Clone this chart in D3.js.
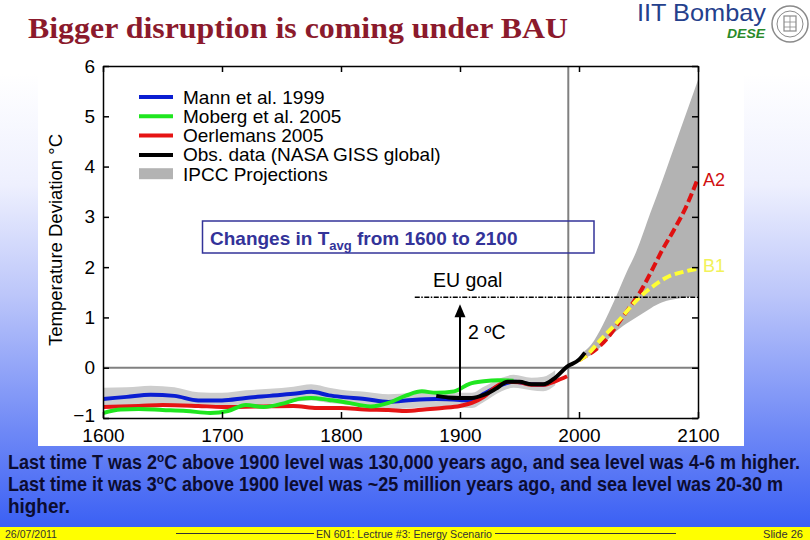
<!DOCTYPE html>
<html><head><meta charset="utf-8">
<script src="https://cdn.jsdelivr.net/npm/d3@7"></script>
<style>html,body{margin:0;padding:0;background:#fff;}svg{display:block;}</style>
</head><body>
<svg id="c" width="810" height="540"></svg>
<script>
// ---------- data ----------
const legendLabels = ["Mann et al. 1999","Moberg et al. 2005","Oerlemans 2005","Obs. data (NASA GISS global)","IPCC Projections"];
const xTickValues = [1600,1700,1800,1900,2000,2100];
const yTickValues = [-1,0,1,2,3,4,5,6];

const mannYears  = [1600,1620,1640,1660,1680,1700,1720,1740,1760,1775,1790,1800,1820,1840,1860,1880,1900,1910,1920,1935,1945,1960,1970,1980];
const mannValues = [-0.62,-0.58,-0.54,-0.56,-0.65,-0.65,-0.60,-0.56,-0.52,-0.48,-0.55,-0.58,-0.62,-0.68,-0.64,-0.62,-0.64,-0.66,-0.52,-0.34,-0.28,-0.33,-0.34,-0.22];

const mobergYears  = [1600,1615,1630,1650,1670,1690,1705,1720,1735,1750,1765,1775,1790,1800,1815,1825,1840,1855,1868,1880,1895,1908,1920,1932,1945];
const mobergValues = [-0.90,-0.83,-0.82,-0.84,-0.86,-0.90,-0.86,-0.74,-0.78,-0.72,-0.62,-0.60,-0.64,-0.67,-0.74,-0.77,-0.70,-0.55,-0.47,-0.50,-0.47,-0.32,-0.27,-0.25,-0.26];

const oerlYears  = [1600,1630,1650,1680,1700,1730,1760,1780,1800,1820,1840,1855,1870,1885,1900,1910,1920,1930,1940,1950,1960,1970,1980,1990];
const oerlValues = [-0.78,-0.76,-0.74,-0.76,-0.78,-0.77,-0.76,-0.80,-0.80,-0.83,-0.84,-0.86,-0.83,-0.80,-0.76,-0.70,-0.58,-0.38,-0.28,-0.29,-0.34,-0.34,-0.27,-0.17];

const nasaYears  = [1880,1890,1900,1910,1920,1930,1940,1950,1960,1970,1980,1990,2000,2005];
const nasaValues = [-0.56,-0.59,-0.60,-0.60,-0.54,-0.42,-0.28,-0.28,-0.33,-0.33,-0.20,0.02,0.16,0.30];

const histBandYears = [1600,1620,1640,1660,1680,1700,1720,1740,1760,1775,1790,1800,1820,1840,1860,1880,1900,1910,1920,1935,1945,1960,1970,1980];
const histBandUpper = [-0.40,-0.39,-0.36,-0.39,-0.49,-0.50,-0.45,-0.42,-0.38,-0.33,-0.40,-0.44,-0.48,-0.53,-0.50,-0.48,-0.50,-0.50,-0.38,-0.20,-0.14,-0.20,-0.18,-0.05];
const histBandLower = [-0.80,-0.76,-0.72,-0.74,-0.80,-0.80,-0.76,-0.72,-0.68,-0.65,-0.70,-0.72,-0.78,-0.83,-0.80,-0.78,-0.80,-0.80,-0.68,-0.47,-0.40,-0.45,-0.47,-0.35];

const projYears = [2003,2010,2020,2030,2040,2048,2060,2070,2085,2100];
const projUpper = [0.30,0.45,0.85,1.35,1.90,2.30,3.08,3.72,4.72,5.72];
const projLower = [0.20,0.25,0.45,0.70,0.88,1.00,1.18,1.30,1.38,1.42];

const a2Years  = [2000,2005,2015,2025,2035,2045,2050,2060,2070,2080,2090,2100];
const a2Values = [0.15,0.22,0.38,0.62,0.95,1.28,1.45,1.88,2.34,2.75,3.20,3.77];

const b1Years  = [2000,2005,2018,2032,2051,2060,2074,2090,2100];
const b1Values = [0.15,0.22,0.55,0.90,1.40,1.58,1.80,1.92,1.97];

const markerYear = 1991;      // vertical reference line
const euGoalValue = 1.4;      // 2 ºC above 1900 level
const baseline1900 = -0.58;
const euGoalStartYear = 1862;

const bottomLines = [
  ["Last time T was 2","o","C above 1900 level was 130,000 years ago, and sea level was 4-6 m higher."],
  ["Last time it was 3","o","C above 1900 level was ~25 million years ago, and sea level was 20-30 m"],
  ["higher.","",""]
];

// ---------- drawing ----------
const svg = d3.select("#c");
const defs = svg.append("defs");
const grad = defs.append("linearGradient").attr("id","bg").attr("x1",0).attr("y1",0).attr("x2",0).attr("y2",1);
[[0,"#ffffff"],[0.14,"#ffffff"],[0.35,"#eef0fe"],[0.56,"#bcc6fa"],[0.82,"#6e88f6"],[1,"#3b60f4"]].forEach(s=>grad.append("stop").attr("offset",s[0]).attr("stop-color",s[1]));
svg.append("rect").attr("width",810).attr("height",527).attr("fill","url(#bg)");
svg.append("rect").attr("y",527).attr("width",810).attr("height",13).attr("fill","#ffff00");

// header
svg.append("text").attr("x",28).attr("y",38).attr("font-family","'Liberation Serif','Times New Roman',serif")
  .attr("font-weight","bold").attr("font-size",30).attr("fill","#8b1a2c").attr("textLength",540).attr("lengthAdjust","spacingAndGlyphs")
  .text("Bigger disruption is coming under BAU");
svg.append("text").attr("x",637).attr("y",21).attr("font-family","'Liberation Sans',Arial,sans-serif")
  .attr("font-size",24).attr("fill","#24408c").attr("textLength",129).attr("lengthAdjust","spacingAndGlyphs").text("IIT Bombay");
svg.append("text").attr("x",727).attr("y",38).attr("font-family","'Liberation Sans',Arial,sans-serif")
  .attr("font-size",12).attr("font-weight","bold").attr("font-style","italic").attr("fill","#2a8a2a")
  .attr("textLength",38).attr("lengthAdjust","spacingAndGlyphs").text("DESE");
// seal
const seal = svg.append("g").attr("transform","translate(790,24)").attr("fill","none").attr("stroke","#8a8a8a");
seal.append("circle").attr("r",18).attr("stroke-width",1.5);
seal.append("circle").attr("r",13).attr("stroke-width",1);
seal.append("rect").attr("x",-6).attr("y",-8).attr("width",12).attr("height",15).attr("stroke-width",1.2);
seal.append("path").attr("d","M-6,-2H6M-6,3H6M0,-8V7").attr("stroke-width",0.8);

// chart panel
svg.append("rect").attr("x",38).attr("y",52).attr("width",706).attr("height",394).attr("fill","#ffffff");

const x = d3.scaleLinear().domain([1600,2100]).range([103,698]);
const y = d3.scaleLinear().domain([-1,6]).range([418,66]);
const fontSans = "'Liberation Sans',Arial,Helvetica,sans-serif";

defs.append("clipPath").attr("id","plot").append("rect").attr("x",103).attr("y",66).attr("width",595).attr("height",352);
const plot = svg.append("g").attr("clip-path","url(#plot)");

const zipXY = (xs,vs)=>xs.map((d,i)=>[d,vs[i]]);
const line = d3.line().x(d=>x(d[0])).y(d=>y(d[1])).curve(d3.curveMonotoneX);
const area = d3.area().x(d=>x(d.yr)).y0(d=>y(d.lo)).y1(d=>y(d.hi)).curve(d3.curveMonotoneX);

plot.append("path").datum(histBandYears.map((d,i)=>({yr:d,hi:histBandUpper[i],lo:histBandLower[i]})))
  .attr("d",area).attr("fill","#cdcdcd");
plot.append("path").datum(projYears.map((d,i)=>({yr:d,hi:projUpper[i],lo:projLower[i]})))
  .attr("d",area).attr("fill","#b3b3b3");

// reference lines
plot.append("line").attr("x1",x(1600)).attr("x2",x(2100)).attr("y1",y(0)).attr("y2",y(0)).attr("stroke","#808080").attr("stroke-width",2);
plot.append("line").attr("x1",x(markerYear)).attr("x2",x(markerYear)).attr("y1",y(6)).attr("y2",y(-1)).attr("stroke","#808080").attr("stroke-width",2);

// data lines
plot.append("path").datum(zipXY(mannYears,mannValues)).attr("d",line).attr("fill","none").attr("stroke","#0a1ed2").attr("stroke-width",4);
plot.append("path").datum(zipXY(oerlYears,oerlValues)).attr("d",line).attr("fill","none").attr("stroke","#e61414").attr("stroke-width",4);
plot.append("path").datum(zipXY(mobergYears,mobergValues)).attr("d",line).attr("fill","none").attr("stroke","#1fe61f").attr("stroke-width",4);
plot.append("path").datum(zipXY(a2Years,a2Values)).attr("d",line).attr("fill","none").attr("stroke","#e01010").attr("stroke-width",4).attr("stroke-dasharray","9,4");
plot.append("path").datum(zipXY(b1Years,b1Values)).attr("d",line).attr("fill","none").attr("stroke","#ffff33").attr("stroke-width",4).attr("stroke-dasharray","9,4");
plot.append("path").datum(zipXY(nasaYears,nasaValues)).attr("d",line).attr("fill","none").attr("stroke","#000").attr("stroke-width",4);

// EU goal
svg.append("line").attr("x1",x(euGoalStartYear)).attr("x2",x(2100)).attr("y1",y(euGoalValue)).attr("y2",y(euGoalValue))
  .attr("stroke","#000").attr("stroke-width",1.5).attr("stroke-dasharray","5,1.5,1.5,1.5");
svg.append("text").attr("x",433).attr("y",y(euGoalValue)-10).attr("font-family",fontSans).attr("font-size",19.5).text("EU goal");
svg.append("line").attr("x1",x(1900)).attr("x2",x(1900)).attr("y1",y(baseline1900)).attr("y2",y(euGoalValue)+18).attr("stroke","#000").attr("stroke-width",2);
svg.append("path").attr("d",`M${x(1900)},${y(euGoalValue)+7} l-5.5,13 h11 z`).attr("fill","#000");
svg.append("text").attr("x",468).attr("y",339).attr("font-family",fontSans).attr("font-size",19.5).text("2 ºC");

// axes
const axB = d3.axisBottom(x).tickValues(xTickValues).tickFormat(d3.format("d")).tickSizeInner(-6).tickSizeOuter(0).tickPadding(11);
const axL = d3.axisLeft(y).tickValues(yTickValues).tickFormat(d3.format("d")).tickSizeInner(-6).tickSizeOuter(0).tickPadding(8);
const axT = d3.axisTop(x).tickValues(xTickValues).tickSizeInner(-6).tickSizeOuter(0).tickFormat("");
const axR = d3.axisRight(y).tickValues(yTickValues).tickSizeInner(-6).tickSizeOuter(0).tickFormat("");
const styleAx = g=>{g.selectAll("text").attr("font-family",fontSans).attr("font-size",19).attr("fill","#000");
  g.selectAll("line,path").attr("stroke","#000").attr("stroke-width",1.5);};
svg.append("g").attr("transform",`translate(0,${y(-1)})`).call(axB).call(styleAx);
const gL = svg.append("g").attr("transform",`translate(${x(1600)},0)`).call(axL).call(styleAx);
gL.selectAll(".tick").filter(d=>d===-1).select("text").attr("y",-3);
svg.append("g").attr("transform",`translate(0,${y(6)})`).call(axT).call(styleAx);
svg.append("g").attr("transform",`translate(${x(2100)},0)`).call(axR).call(styleAx);

svg.append("text").attr("transform","translate(62,240) rotate(-90)").attr("text-anchor","middle")
  .attr("font-family",fontSans).attr("font-size",18.5).text("Temperature Deviation °C");

// A2 / B1 labels
svg.append("text").attr("x",703).attr("y",186).attr("font-family",fontSans).attr("font-size",18).attr("fill","#d01010").text("A2");
svg.append("text").attr("x",703).attr("y",272).attr("font-family",fontSans).attr("font-size",18).attr("fill","#f2f25a").text("B1");

// legend
const legColors = ["#0a1ed2","#1fe61f","#e61414","#000000","#b3b3b3"];
const leg = svg.append("g");
legendLabels.forEach((lab,i)=>{
  const yy = 97 + i*19.3;
  if(i<4) leg.append("line").attr("x1",139).attr("x2",173).attr("y1",yy).attr("y2",yy).attr("stroke",legColors[i]).attr("stroke-width",4);
  else leg.append("rect").attr("x",139).attr("y",yy-6).attr("width",34).attr("height",11).attr("fill",legColors[i]);
  leg.append("text").attr("x",183).attr("y",yy+6.5).attr("font-family",fontSans).attr("font-size",19).text(lab);
});

// box annotation
svg.append("rect").attr("x",202.5).attr("y",221).attr("width",391.5).attr("height",32).attr("fill","none").attr("stroke","#333399").attr("stroke-width",1.5);
const bt = svg.append("text").attr("x",210).attr("y",245).attr("font-family",fontSans).attr("font-weight","bold").attr("font-size",19).attr("fill","#333399");
bt.append("tspan").text("Changes in T");
bt.append("tspan").attr("font-size",13).attr("dy",5).text("avg");
bt.append("tspan").attr("dy",-5).text(" from 1600 to 2100");

// bottom text (condensed bold: smaller font stretched vertically)
const lineWidths = [792,775,62];
bottomLines.forEach((parts,i)=>{
  const t = svg.append("text").attr("transform",`translate(8,${469+i*22}) scale(1,1.28)`)
    .attr("font-family",fontSans).attr("font-weight","bold")
    .attr("font-size",15.4).attr("fill","#0c0c30")
    .attr("textLength",lineWidths[i]).attr("lengthAdjust","spacingAndGlyphs");
  t.append("tspan").text(parts[0]);
  if(parts[1]){ t.append("tspan").attr("font-size",10).attr("dy",-5.5).text(parts[1]);
    t.append("tspan").attr("dy",5.5).text(parts[2]); }
});

// footer
const ff = "'Liberation Sans Narrow','Liberation Sans',Arial,sans-serif";
svg.append("text").attr("x",5).attr("y",538).attr("font-family",ff).attr("font-size",11).attr("fill","#333")
  .attr("textLength",52).attr("lengthAdjust","spacingAndGlyphs").text("26/07/2011");
svg.append("text").attr("x",404).attr("y",538).attr("text-anchor","middle").attr("font-family",ff).attr("font-size",11).attr("fill","#333")
  .attr("textLength",176).attr("lengthAdjust","spacingAndGlyphs").text("EN 601: Lectrue #3: Energy Scenario");
svg.append("line").attr("x1",176).attr("x2",314).attr("y1",533.5).attr("y2",533.5).attr("stroke","#333").attr("stroke-width",1);
svg.append("line").attr("x1",495).attr("x2",676).attr("y1",533.5).attr("y2",533.5).attr("stroke","#333").attr("stroke-width",1);
svg.append("text").attr("x",763).attr("y",538).attr("font-family",ff).attr("font-size",11).attr("fill","#333")
  .attr("textLength",40).attr("lengthAdjust","spacingAndGlyphs").text("Slide 26");
</script>
</body></html>
